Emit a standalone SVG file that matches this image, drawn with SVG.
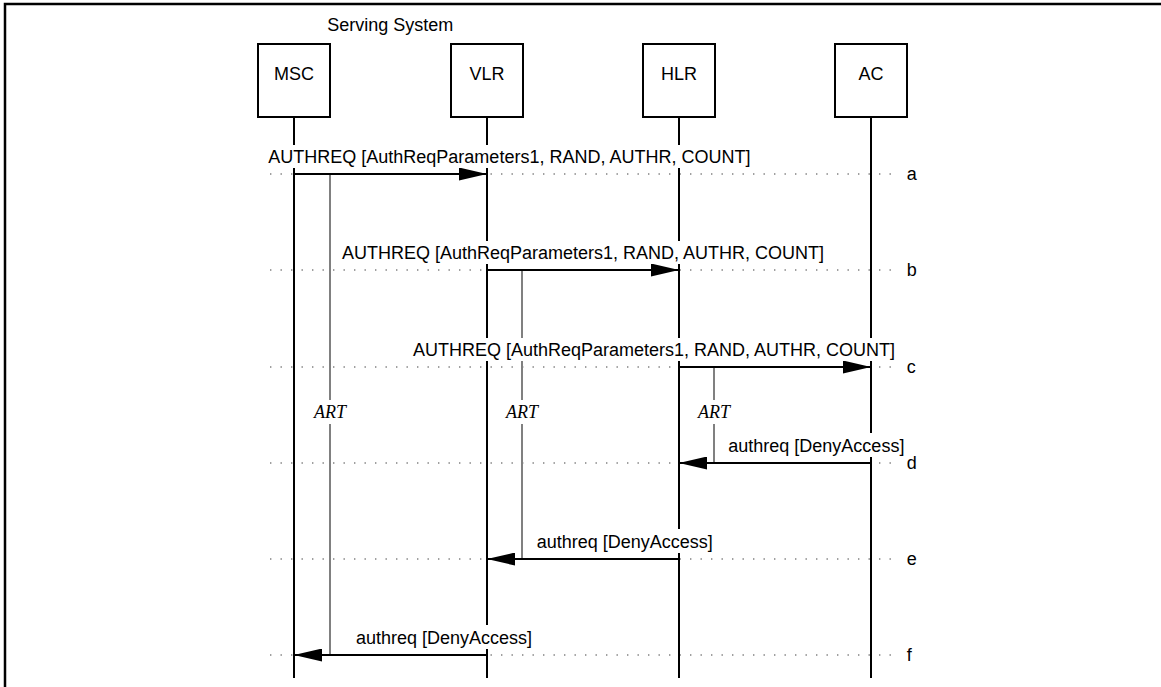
<svg xmlns="http://www.w3.org/2000/svg" width="1161" height="687" viewBox="0 0 1161 687">
<style>
.box{fill:#fff;stroke:#000;stroke-width:2}
.life{stroke:#000;stroke-width:2}
.art{stroke:#808080;stroke-width:2}
.dot{stroke:#808080;stroke-width:1.4;stroke-dasharray:1.4 9.1}
.msg{stroke:#000;stroke-width:2;fill:none}
.t{font-family:"Liberation Sans",Arial,sans-serif;font-size:18px;fill:#000}
.ta{font-family:"Liberation Serif","Times New Roman",serif;font-style:italic;font-size:18px;fill:#000;text-anchor:middle}
.bg{fill:#fff}
</style>
<defs>
<marker id="ah" markerUnits="userSpaceOnUse" markerWidth="28" markerHeight="13" refX="28" refY="6.5" orient="auto" viewBox="0 0 28 13">
<path d="M0,0 L28,6.5 L0,13 z" fill="#000"/>
</marker>
</defs>
<rect width="1161" height="687" fill="#fff"/>
<path d="M5,687 V4 H1161" fill="none" stroke="#000" stroke-width="2.5"/>
<text class="t" x="327.3" y="31">Serving System</text>

<g id="dotted">
<line class="dot" x1="270" y1="174" x2="896" y2="174"/>
<line class="dot" x1="270" y1="270" x2="896" y2="270"/>
<line class="dot" x1="270" y1="367" x2="896" y2="367"/>
<line class="dot" x1="270" y1="463" x2="896" y2="463"/>
<line class="dot" x1="270" y1="559" x2="896" y2="559"/>
<line class="dot" x1="270" y1="655" x2="896" y2="655"/>
</g>

<g id="node-MSC">
<line class="life" x1="294" y1="117" x2="294" y2="678"/>
<rect class="box" x="258" y="44" width="72" height="73"/>
<text class="t" x="294" y="80" text-anchor="middle">MSC</text>
</g>
<g id="node-VLR">
<line class="life" x1="487" y1="117" x2="487" y2="678"/>
<rect class="box" x="451" y="44" width="72" height="73"/>
<text class="t" x="487" y="80" text-anchor="middle">VLR</text>
</g>
<g id="node-HLR">
<line class="life" x1="679" y1="117" x2="679" y2="678"/>
<rect class="box" x="643" y="44" width="72" height="73"/>
<text class="t" x="679" y="80" text-anchor="middle">HLR</text>
</g>
<g id="node-AC">
<line class="life" x1="871" y1="117" x2="871" y2="678"/>
<rect class="box" x="835" y="44" width="72" height="73"/>
<text class="t" x="871" y="80" text-anchor="middle">AC</text>
</g>

<g id="timers">
<line class="art" x1="330" y1="174" x2="330" y2="655"/>
<rect class="bg" x="312" y="400" width="36" height="24"/>
<text class="ta" x="330" y="418">ART</text>
<line class="art" x1="522" y1="270" x2="522" y2="559"/>
<rect class="bg" x="504" y="400" width="36" height="24"/>
<text class="ta" x="522" y="418">ART</text>
<line class="art" x1="714" y1="367" x2="714" y2="463"/>
<rect class="bg" x="696" y="400" width="36" height="24"/>
<text class="ta" x="714" y="418">ART</text>
</g>

<g id="connectors">
<line class="msg" x1="294" y1="174" x2="487" y2="174" marker-end="url(#ah)"/>
<line class="msg" x1="487" y1="270" x2="679" y2="270" marker-end="url(#ah)"/>
<line class="msg" x1="679" y1="367" x2="871" y2="367" marker-end="url(#ah)"/>
<line class="msg" x1="871" y1="463" x2="679" y2="463" marker-end="url(#ah)"/>
<line class="msg" x1="679" y1="559" x2="487" y2="559" marker-end="url(#ah)"/>
<line class="msg" x1="487" y1="655" x2="294" y2="655" marker-end="url(#ah)"/>

<rect class="bg" x="266" y="145" width="485" height="23"/>
<text class="t" x="268.3" y="163">AUTHREQ [AuthReqParameters1, RAND, AUTHR, COUNT]</text>
<rect class="bg" x="340" y="241" width="485" height="23"/>
<text class="t" x="342" y="259">AUTHREQ [AuthReqParameters1, RAND, AUTHR, COUNT]</text>
<rect class="bg" x="411" y="338" width="485" height="23"/>
<text class="t" x="413" y="356">AUTHREQ [AuthReqParameters1, RAND, AUTHR, COUNT]</text>
<rect class="bg" x="726" y="433" width="180" height="24"/>
<text class="t" x="728.3" y="452">authreq [DenyAccess]</text>
<rect class="bg" x="534" y="529" width="180" height="24"/>
<text class="t" x="536.7" y="548">authreq [DenyAccess]</text>
<rect class="bg" x="354" y="625" width="180" height="24"/>
<text class="t" x="356" y="644">authreq [DenyAccess]</text>
</g>

<g id="steps">
<text class="t" x="906.7" y="179.5">a</text>
<text class="t" x="906.7" y="275.5">b</text>
<text class="t" x="906.7" y="372.5">c</text>
<text class="t" x="906.7" y="468.5">d</text>
<text class="t" x="906.7" y="564.5">e</text>
<text class="t" x="906.7" y="660.5">f</text>
</g>
</svg>
